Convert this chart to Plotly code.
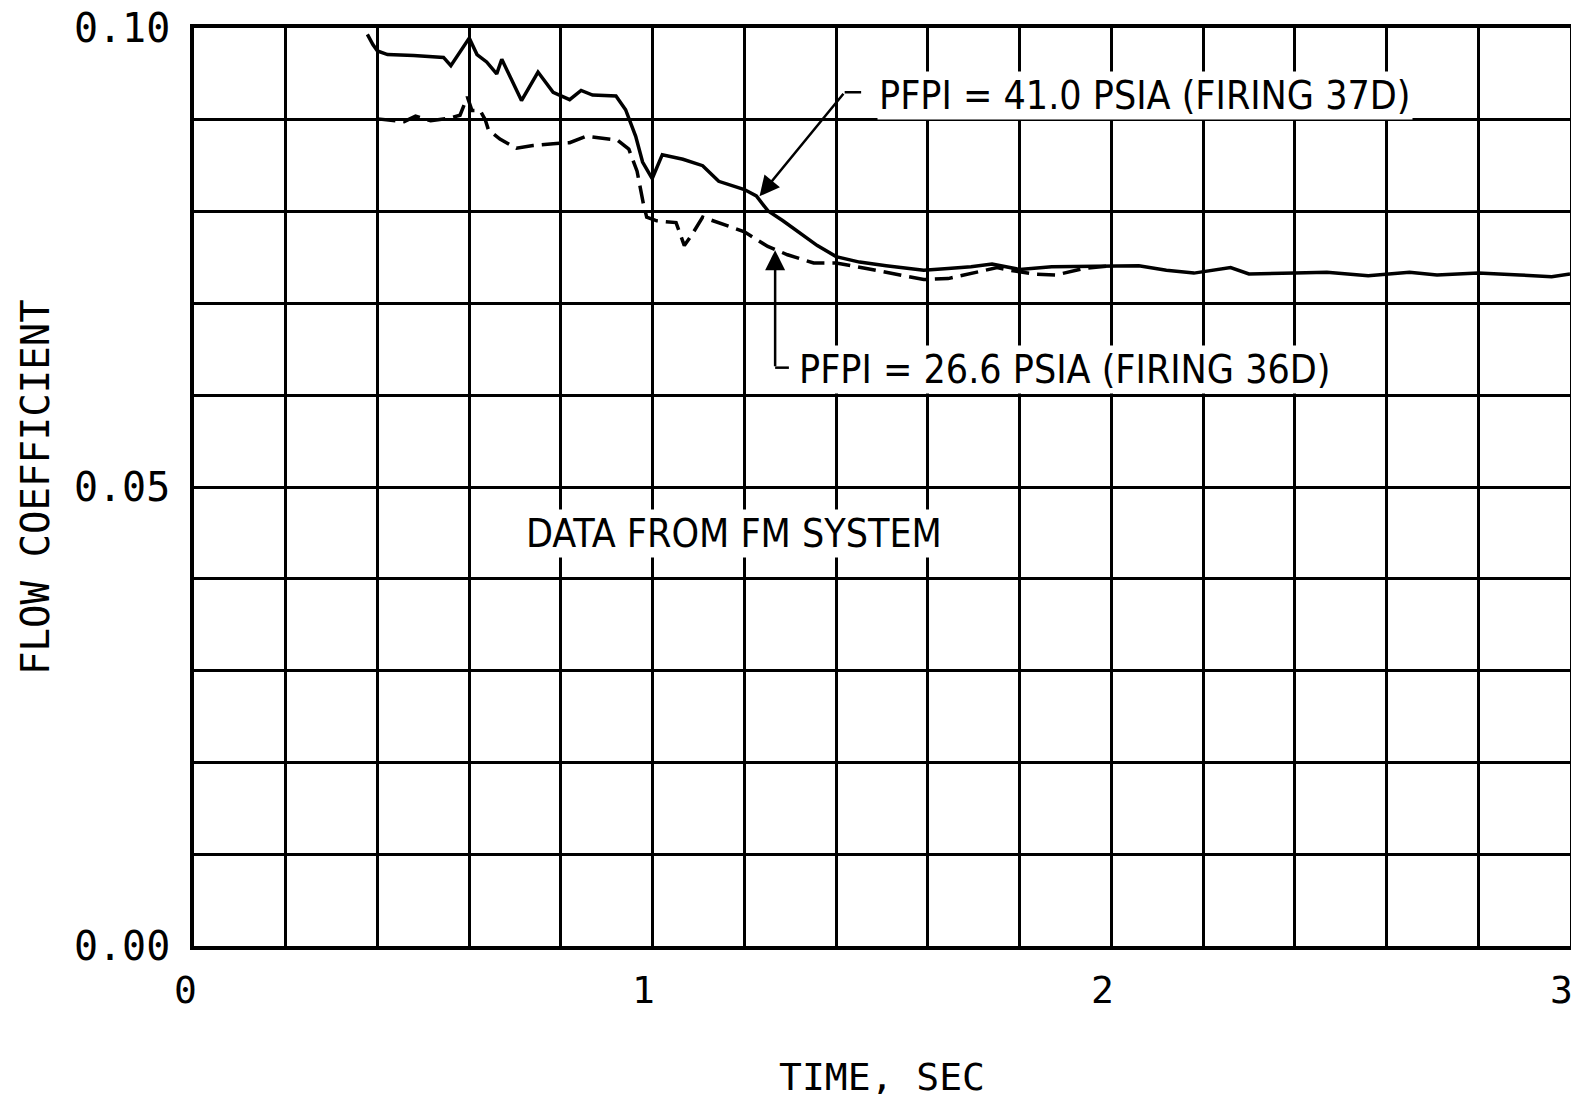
import plotly.graph_objects as go

# ---- data ----
t_41 = [0.378, 0.39, 0.40, 0.422, 0.479, 0.544, 0.560, 0.600, 0.617, 0.638, 0.660, 0.671,
        0.714, 0.750, 0.783, 0.819, 0.844, 0.869, 0.920, 0.941, 0.963, 0.978, 0.999, 1.021,
        1.066, 1.109, 1.144, 1.200, 1.226, 1.251, 1.284, 1.323, 1.359, 1.400, 1.451, 1.509,
        1.591, 1.644, 1.694, 1.74, 1.80, 1.87, 2.00, 2.06, 2.12, 2.18, 2.26, 2.30, 2.40,
        2.47, 2.56, 2.65, 2.71, 2.80, 2.89, 2.96, 3.00]
cf_41 = [0.0993, 0.0982, 0.0975, 0.0971, 0.0970, 0.0968, 0.0959, 0.0989, 0.0971, 0.0963,
         0.0950, 0.0966, 0.0921, 0.0952, 0.0930, 0.0922, 0.0932, 0.0927, 0.0926, 0.0911,
         0.0882, 0.0854, 0.0836, 0.0862, 0.0857, 0.0850, 0.0833, 0.0824, 0.0817, 0.0801,
         0.0790, 0.0776, 0.0763, 0.0751, 0.0745, 0.0741, 0.0736, 0.0738, 0.0740, 0.0743,
         0.0737, 0.0740, 0.0741, 0.0741, 0.0736, 0.0733, 0.0739, 0.0732, 0.0733, 0.0734,
         0.0730, 0.0734, 0.0731, 0.0733, 0.0731, 0.0729, 0.0732]

t_26 = [0.40, 0.422, 0.458, 0.483, 0.516, 0.559, 0.580, 0.596, 0.606, 0.624, 0.635, 0.642,
        0.667, 0.703, 0.739, 0.783, 0.819, 0.855, 0.898, 0.923, 0.948, 0.966, 0.980, 0.987,
        1.009, 1.051, 1.069, 1.087, 1.109, 1.144, 1.200, 1.251, 1.294, 1.351, 1.400, 1.466,
        1.537, 1.591, 1.644, 1.680, 1.751, 1.78, 1.83, 1.88, 1.94, 2.00]
cf_26 = [0.0901, 0.0900, 0.0898, 0.0904, 0.0899, 0.0902, 0.0905, 0.0925, 0.0910, 0.0910,
         0.0900, 0.0889, 0.0879, 0.0869, 0.0872, 0.0874, 0.0875, 0.0882, 0.0880, 0.0878,
         0.0868, 0.0844, 0.0808, 0.0794, 0.0790, 0.0788, 0.0763, 0.0776, 0.0794, 0.0788,
         0.0778, 0.0762, 0.0753, 0.0744, 0.0744, 0.0738, 0.0731, 0.0726, 0.0727, 0.0731,
         0.0739, 0.0736, 0.0732, 0.0731, 0.0738, 0.0741]

x_gridvals = [round(0.2 * i, 1) for i in range(16)]
x_labelvals = [0, 1, 2, 3]
x_labeltext = ["0", "1", "2", "3"]
y_tickvals = [round(0.01 * i, 2) for i in range(11)]
y_ticktext = ["0.00", "", "", "", "", "0.05", "", "", "", "", "0.10"]

label_41 = "PFPI = 41.0 PSIA (FIRING 37D)"
label_26 = "PFPI = 26.6 PSIA (FIRING 36D)"
note = "DATA FROM FM SYSTEM"

MONO = "DejaVu Sans Mono, monospace"
NARROW = "Liberation Sans Narrow, DejaVu Sans Condensed, Liberation Sans, sans-serif"

fig = go.Figure()
fig.add_trace(go.Scatter(x=t_41, y=cf_41, mode="lines",
                         line=dict(color="black", width=3.5), showlegend=False))
fig.add_trace(go.Scatter(x=t_26, y=cf_26, mode="lines",
                         line=dict(color="black", width=3.5, dash="18px,8px"), showlegend=False))

axis_common = dict(showgrid=True, gridcolor="black", gridwidth=2.5, zeroline=False,
                   showline=True, linecolor="black", linewidth=3.5, mirror=True,
                   ticks="", automargin=False, ticklabeloverflow="allow")

fig.update_xaxes(range=[0, 3], tickmode="array", tickvals=x_gridvals, showticklabels=False,
                 **axis_common)
fig.update_yaxes(range=[0, 0.1], tickmode="array", tickvals=y_tickvals, ticktext=y_ticktext,
                 ticklabelstandoff=12, tickfont=dict(family=MONO, size=40, color="black"),
                 **axis_common)

annotations = [
    dict(x=1.489, y=0.0927, xref="x", yref="y", text=label_41, showarrow=False,
         xanchor="left", yanchor="middle", bgcolor="white",
         font=dict(family=NARROW, size=39, color="black")),
    dict(x=1.315, y=0.0628, xref="x", yref="y", text=label_26, showarrow=False,
         xanchor="left", yanchor="middle", bgcolor="white",
         font=dict(family=NARROW, size=39, color="black")),
    dict(x=1.177, y=0.0449, xref="x", yref="y", text=note, showarrow=False,
         xanchor="center", yanchor="middle", bgcolor="white",
         font=dict(family=NARROW, size=39, color="black")),
    # arrows
    dict(x=1.233, y=0.08167, xref="x", yref="y", ax=1.4186, ay=0.0930, axref="x", ayref="y",
         text="", showarrow=True, arrowhead=2, arrowsize=1.6, arrowwidth=2.5, arrowcolor="black"),
    dict(x=1.267, y=0.0758, xref="x", yref="y", ax=1.267, ay=0.0630, axref="x", ayref="y",
         text="", showarrow=True, arrowhead=2, arrowsize=1.6, arrowwidth=2.5, arrowcolor="black"),
    # axis titles
    dict(x=0.5, y=-0.1427, xref="paper", yref="paper", text="TIME, SEC", showarrow=False,
         xanchor="center", yanchor="middle", font=dict(family=MONO, size=38, color="black")),
    dict(x=-0.1156, y=0.5, xref="paper", yref="paper", text="FLOW COEFFICIENT", showarrow=False,
         textangle=-90, xanchor="center", yanchor="middle",
         font=dict(family=MONO, size=39, color="black")),
]
# x tick labels (slightly left of their grid lines, as in the reference)
for v, txt in zip(x_labelvals, x_labeltext):
    annotations.append(dict(x=v, y=0, xref="x", yref="paper", text=txt, showarrow=False,
                            xanchor="center", yanchor="top", xshift=-9, yshift=-20,
                            font=dict(family=MONO, size=38, color="black")))

shapes = [
    dict(type="line", xref="x", yref="y", x0=1.4186, y0=0.0930, x1=1.4545, y1=0.0930,
         line=dict(color="black", width=2.5)),
    dict(type="line", xref="x", yref="y", x0=1.267, y0=0.0630, x1=1.297, y1=0.0630,
         line=dict(color="black", width=2.5)),
]

fig.update_layout(width=1563, height=1086, autosize=False,
                  margin=dict(l=186, r=1, t=20, b=148, autoexpand=False),
                  plot_bgcolor="white", paper_bgcolor="white",
                  annotations=annotations, shapes=shapes)

fig.write_html("out.html")
